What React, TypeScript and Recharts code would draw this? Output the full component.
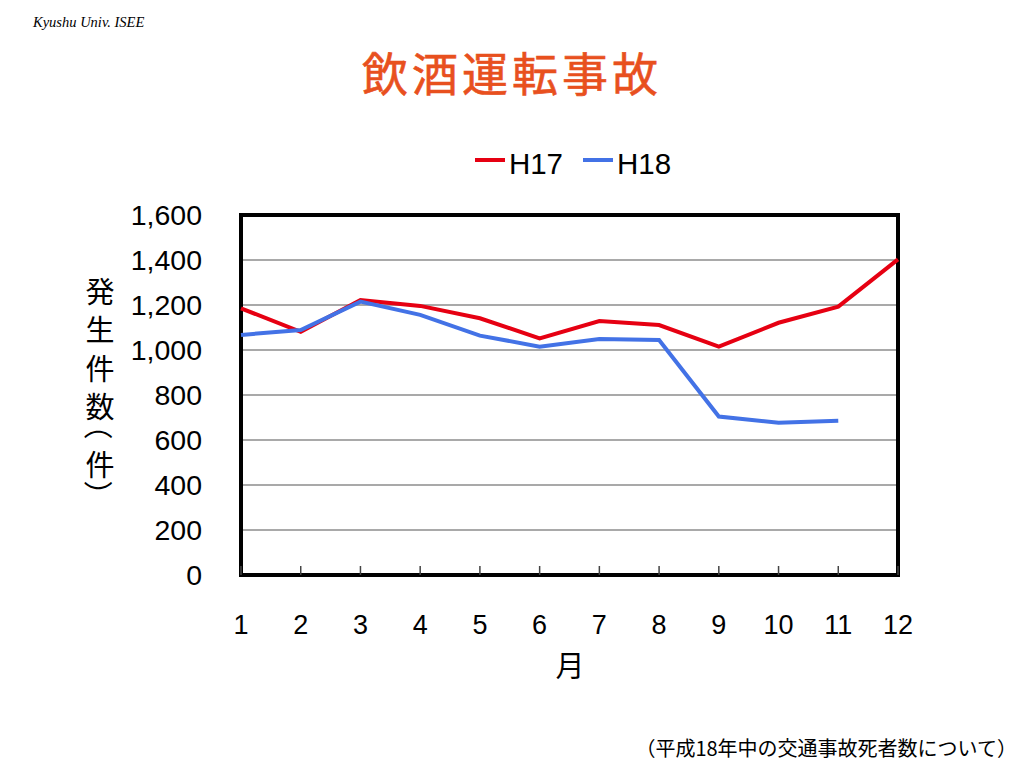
// Drunk-driving accidents per month, H17 vs H18 (slide-style line chart).

import { CartesianGrid, Line, LineChart, ReferenceArea, XAxis, YAxis } from "recharts";

const months = [1, 2, 3, 4, 5, 6, 7, 8, 9, 10, 11, 12];
const h17 = [1185, 1081, 1222, 1196, 1141, 1052, 1129, 1111, 1015, 1121, 1193, 1403];
const h18 = [1067, 1089, 1215, 1156, 1064, 1015, 1049, 1044, 704, 677, 686, null];
const yTicks = [0, 200, 400, 600, 800, 1000, 1200, 1400, 1600];

const series = [
  { key: "h17", name: "H17", color: "#e60012", values: h17 },
  { key: "h18", name: "H18", color: "#4372e6", values: h18 },
];

const data = months.map((m, i) => {
  const row: Record<string, number | null> = { month: m };
  series.forEach((s) => { row[s.key] = s.values[i]; });
  return row;
});

const SANS = '"Liberation Sans", Arial, "Noto Sans CJK JP", sans-serif';
const CJK = '"Noto Sans CJK JP", sans-serif';

// vertical y-axis title: 発生件数（件）, parens turned sideways like vertical text
const yLabelChars = ["発", "生", "件", "数", "（", "件", "）"];
const yLabelPos = [290, 328, 367, 405, 425, 463, 495];

function MonthTick(props: any) {
  const { x, y, payload } = props;
  return (
    <g>
      <line x1={x} x2={x} y1={y - 9} y2={y} stroke="#444" strokeWidth={1.5} />
      <text x={x} y={y + 50} textAnchor="middle" dominantBaseline="central"
            fontSize={27} fontFamily={SANS} fill="#000">{payload.value}</text>
    </g>
  );
}

export default function App() {
  return (
    <div style={{ position: "absolute", left: 0, top: 0, width: 1024, height: 768, background: "#fff" }}>
      <svg width={1024} height={768} style={{ position: "absolute", left: 0, top: 0 }}>
        <text x={33} y={22} dominantBaseline="central" fontSize={14.5}
              fontFamily='"Liberation Serif", "Times New Roman", serif' fontStyle="italic" fill="#000">
          Kyushu Univ. ISEE
        </text>
        <text x={512} y={71} textAnchor="middle" dominantBaseline="central" fontSize={46}
              letterSpacing={4} fontFamily={CJK} fill="#e8501e" stroke="#e8501e" strokeWidth={0.6}>
          飲酒運転事故
        </text>
        {yLabelChars.map((c, i) => {
          const paren = c === "（" || c === "）";
          return (
            <text key={i} x={0} y={0} textAnchor="middle" dominantBaseline="central"
                  transform={`translate(100, ${yLabelPos[i]})${paren ? " rotate(90)" : ""}`}
                  fontSize={29} fontFamily={CJK} fill="#000">{c}</text>
          );
        })}
        <text x={570} y={664} textAnchor="middle" dominantBaseline="central" fontSize={29}
              fontFamily={CJK} fill="#000">月</text>
        <text x={1017} y={747} textAnchor="end" dominantBaseline="central" fontSize={20}
              fontFamily={CJK} fill="#000">（平成18年中の交通事故死者数について）</text>
      </svg>

      <div style={{ position: "absolute", left: 0, top: 142, width: 1024, display: "flex",
                    justifyContent: "center", paddingLeft: 142, boxSizing: "border-box" }}>
        {series.map((s) => (
          <div key={s.key} style={{ display: "flex", alignItems: "center", marginRight: 20 }}>
            <div style={{ width: 30, height: 4, background: s.color, marginRight: 4, marginTop: -8 }} />
            <span style={{ fontFamily: SANS, fontSize: 29.5, lineHeight: "44px", color: "#000" }}>{s.name}</span>
          </div>
        ))}
      </div>

      <div style={{ position: "absolute", left: 0, top: 0 }}>
        <LineChart width={1024} height={768} data={data}
                   margin={{ top: 215, right: 126, bottom: 93, left: 121 }}>
          <CartesianGrid vertical={false} stroke="#8c8c8c" strokeWidth={1.5} />
          <XAxis dataKey="month" type="category" height={100} axisLine={false} tickLine={false}
                 tickSize={0} tickMargin={0} interval={0} tick={<MonthTick />} />
          <YAxis domain={[0, 1600]} ticks={yTicks} width={120} axisLine={false} tickLine={false}
                 tickSize={0} tickMargin={39} interval={0}
                 tickFormatter={(v: number) => v.toLocaleString("en-US")}
                 tick={{ fill: "#000", fontSize: 28.5, fontFamily: SANS }} />
          {series.map((s) => (
            <Line key={s.key} type="linear" dataKey={s.key} name={s.name} stroke={s.color}
                  strokeWidth={4} dot={false} connectNulls={false} isAnimationActive={false} />
          ))}
          <ReferenceArea x1={1} x2={12} y1={0} y2={1600} fill="none" fillOpacity={0}
                         stroke="#000" strokeWidth={4} strokeOpacity={1} />
        </LineChart>
      </div>
    </div>
  );
}
